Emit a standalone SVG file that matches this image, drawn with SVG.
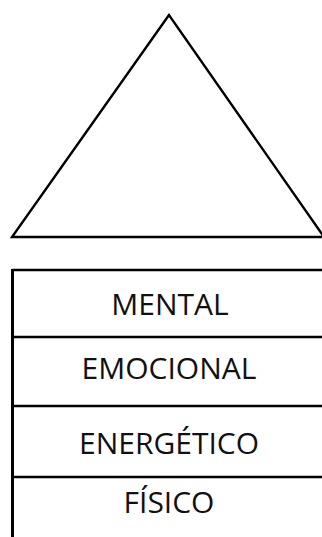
<svg xmlns="http://www.w3.org/2000/svg" width="322" height="537" viewBox="0 0 322 537">
<style>
.ln{stroke:#000;stroke-width:2.4;fill:none}
.lb{font-family:"Open Sans","Liberation Sans",sans-serif;font-size:30px;fill:#111;text-anchor:middle}
</style>
<rect width="322" height="537" fill="#fff"/>
<g id="triangle"><polygon class="ln" points="169,15 12,237 324,237" stroke-linejoin="miter"/></g>
<g id="connectors">
<line class="ln" x1="12.5" y1="270" x2="324" y2="270"/>
<line class="ln" x1="12.5" y1="269" x2="12.5" y2="537" style="stroke-width:3"/>
<line class="ln" x1="12" y1="337" x2="324" y2="337"/>
<line class="ln" x1="12" y1="406" x2="324" y2="406"/>
<line class="ln" x1="12" y1="477" x2="324" y2="477"/>
</g>
<g id="mental"><text class="lb" x="170" y="315">MENTAL</text></g>
<g id="emocional"><text class="lb" x="169" y="379">EMOCIONAL</text></g>
<g id="energetico"><text class="lb" x="169" y="454">ENERGÉTICO</text></g>
<g id="fisico"><text class="lb" x="169" y="513">FÍSICO</text></g>
</svg>
